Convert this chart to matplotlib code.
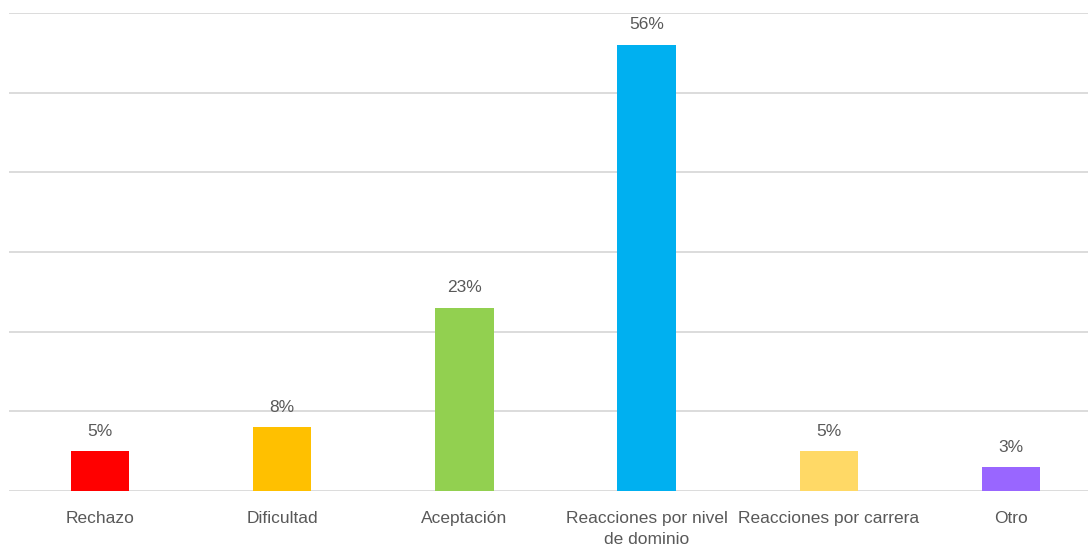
import matplotlib.pyplot as plt
import numpy as np

# Chart data
categories = ['Rechazo', 'Dificultad', 'Aceptación', 'Reacciones por nivel\nde dominio',
              'Reacciones por carrera', 'Otro']
values = [5, 8, 23, 56, 5, 3]
colors = ['#FF0000', '#FFC000', '#92D050', '#00B0F0', '#FFD966', '#9966FF']
grid_ticks = [0, 10, 20, 30, 40, 50, 60]

plt.rcParams['font.family'] = ['Liberation Sans', 'DejaVu Sans']
text_color = '#595959'
fs = 12.5

fig = plt.figure(figsize=(10.88, 5.5), dpi=100)
# plot area runs a little past the right edge of the image
ax = fig.add_axes([9 / 1088, 1 - 491 / 550, 1093 / 1088, 478 / 550])

x = np.arange(len(categories))
bars = ax.bar(x, values, width=0.32, color=colors, zorder=3)

for b, v in zip(bars, values):
    ax.annotate(f'{v}%', (b.get_x() + b.get_width() / 2, v), xytext=(0, 9),
                textcoords='offset points', ha='center', va='bottom',
                fontsize=fs, color=text_color)

ax.set_xlim(-0.5, len(categories) - 0.5)
ax.set_ylim(0, 60)
ax.set_yticks(grid_ticks)
ax.yaxis.grid(True, color='#D9D9D9', linewidth=1.3, zorder=0)
ax.tick_params(axis='y', left=False, labelleft=False)
ax.tick_params(axis='x', bottom=False, pad=11)
ax.set_xticks(x)
ax.set_xticklabels(categories, fontsize=fs, color=text_color, linespacing=1.5)

for s in ax.spines.values():
    s.set_visible(False)

fig.savefig('out.png', dpi=100)
